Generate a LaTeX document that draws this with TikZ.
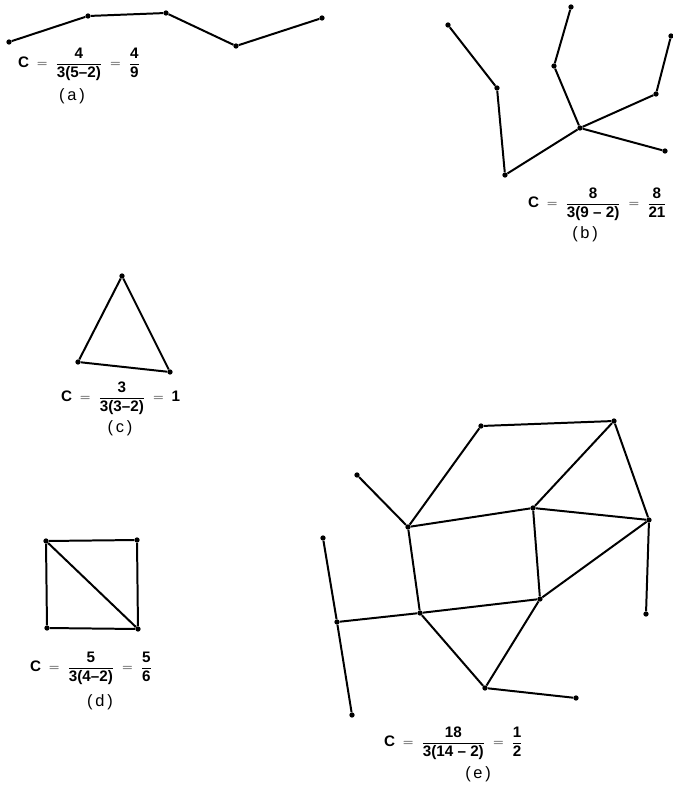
\documentclass[tikz,border=0pt]{standalone}
\usepackage{amsmath}
\usepackage{fontspec}
\setmainfont{Liberation Sans}
\usetikzlibrary{positioning}
\newcommand{\fr}[2]{\dfrac{\text{#1}}{\text{#2}}}
\newcommand{\eqs}{\;=\;}

\begin{document}
\begin{tikzpicture}[
    x=0.03cm, y=-0.03cm,
    vtx/.style={circle, fill, inner sep=0pt, minimum size=4.5pt},
    edge/.style={line width=1.7pt},
    formula/.style={anchor=west, font=\bfseries\fontsize{13}{15}\selectfont},
    caption/.style={font=\fontsize{14}{16}\selectfont},
    node distance=4pt
]
\useasboundingbox (0,0) rectangle (672,790);

% (a) path
\node[vtx] (a1) at (9,42) {};
\node[vtx] (a2) at (88,16) {};
\node[vtx] (a3) at (166,13) {};
\node[vtx] (a4) at (236,46) {};
\node[vtx] (a5) at (322,18) {};
\draw[edge] (a1) -- (a2) -- (a3) -- (a4) -- (a5);
\node[formula] (fa) at (14,64) {$\text{C}\eqs\fr{4}{3(5--2)}\eqs\fr{4}{9}$};
\node[caption] (ca) at (72,96) {(\,a\,)};

% (b) tree
\node[vtx] (b1) at (448,25) {};
\node[vtx] (b2) at (497,88) {};
\node[vtx] (b3) at (505,175) {};
\node[vtx] (b4) at (580,128) {};
\node[vtx] (b5) at (554,66) {};
\node[vtx] (b6) at (571,7) {};
\node[vtx] (b7) at (656,94) {};
\node[vtx] (b8) at (671,36) {};
\node[vtx] (b9) at (665,151) {};
\draw[edge] (b1) -- (b2) -- (b3) -- (b4) -- (b5) -- (b6);
\draw[edge] (b4) -- (b7) -- (b8);
\draw[edge] (b4) -- (b9);
\node[formula] (fb) at (524,204) {$\text{C}\eqs\fr{8}{3(9 -- 2)}\eqs\fr{8}{21}$};
\node[caption] (cb) at (585,234) {(\,b\,)};

% (c) triangle
\node[vtx] (c1) at (122,276) {};
\node[vtx] (c2) at (78,362) {};
\node[vtx] (c3) at (170,372) {};
\draw[edge] (c1) -- (c2) -- (c3) -- (c1);
\node[formula] (fc) at (57,398) {$\text{C}\eqs\fr{3}{3(3--2)}\eqs\text{1}$};
\node[caption] (cc) at (120,428) {(\,c\,)};

% (d) square with diagonal
\node[vtx] (d1) at (46,541) {};
\node[vtx] (d2) at (137,540) {};
\node[vtx] (d3) at (47,628) {};
\node[vtx] (d4) at (138,629) {};
\draw[edge] (d1) -- (d2) -- (d4) -- (d3) -- (d1) -- (d4);
\node[formula] (fd) at (26,668) {$\text{C}\eqs\fr{5}{3(4--2)}\eqs\fr{5}{6}$};
\node[caption] (cd) at (100,702) {(\,d\,)};

% (e) larger graph
\node[vtx] (e1) at (481,426) {};
\node[vtx] (e2) at (614,421) {};
\node[vtx] (e3) at (357,475) {};
\node[vtx] (e4) at (408,527) {};
\node[vtx] (e5) at (533,508) {};
\node[vtx] (e6) at (649,520) {};
\node[vtx] (e7) at (323,538) {};
\node[vtx] (e8) at (540,599) {};
\node[vtx] (e9) at (420,613) {};
\node[vtx] (e10) at (337,622) {};
\node[vtx] (e11) at (646,614) {};
\node[vtx] (e12) at (485,688) {};
\node[vtx] (e13) at (576,698) {};
\node[vtx] (e14) at (352,715) {};
\draw[edge] (e4) -- (e1) -- (e2) -- (e6) -- (e11);
\draw[edge] (e3) -- (e4) -- (e5) -- (e2);
\draw[edge] (e5) -- (e6) -- (e8) -- (e5);
\draw[edge] (e4) -- (e9) -- (e8) -- (e12) -- (e9);
\draw[edge] (e12) -- (e13);
\draw[edge] (e7) -- (e10) -- (e14);
\draw[edge] (e10) -- (e9);
\node[formula] (fe) at (380,743) {$\text{C}\eqs\fr{18}{3(14 -- 2)}\eqs\fr{1}{2}$};
\node[caption] (ce) at (478,774) {(\,e\,)};

\end{tikzpicture}
\end{document}
